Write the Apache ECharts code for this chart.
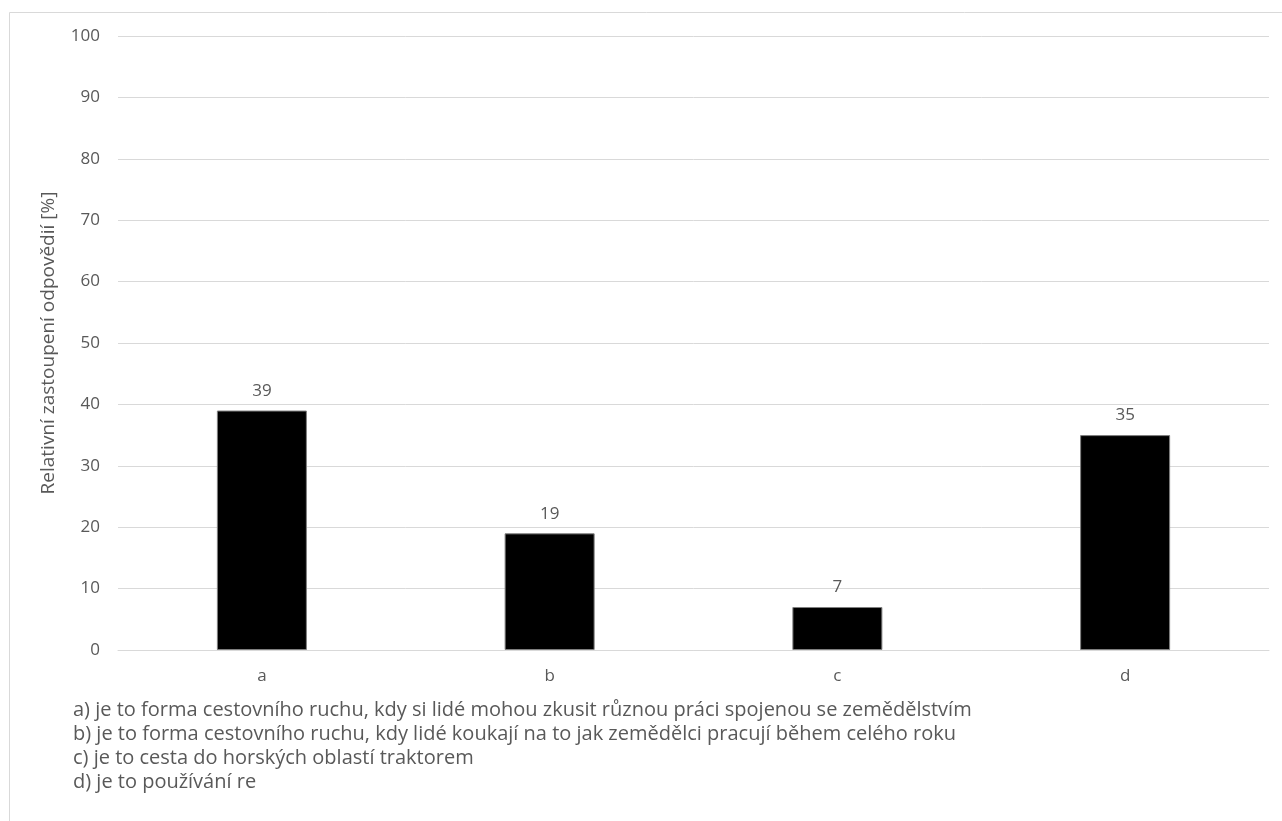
<!DOCTYPE html>
<html>
<head>
<meta charset="utf-8">
<script src="https://cdn.jsdelivr.net/npm/echarts@6/dist/echarts.min.js"></script>
<style>
  html, body { margin: 0; padding: 0; background: #ffffff; }
  #chart { width: 1282px; height: 821px; }
</style>
</head>
<body>
<div id="chart"></div>
<script>
// Answer categories and the share of respondents (%) for each
const categories = ['a', 'b', 'c', 'd'];
const shares = [39, 19, 7, 35];

// Y axis range
const yMin = 0;
const yMax = 100;
const yStep = 10;
const yAxisTitle = 'Relativní zastoupení odpovědií [%]';

// Explanations of the answer options printed under the chart
const answerNotes = [
  'a) je to forma cestovního ruchu, kdy si lidé mohou zkusit různou práci spojenou se zemědělstvím',
  'b) je to forma cestovního ruchu, kdy lidé koukají na to jak zemědělci pracují během celého roku',
  'c) je to cesta do horských oblastí traktorem',
  'd) je to používání re'
];

const FONT = '"Open Sans", "Noto Sans", sans-serif';
const TEXT = '#595959';

const chart = echarts.init(document.getElementById('chart'), null, { renderer: 'canvas' });

const noteGraphics = answerNotes.map((t, i) => ({
  type: 'text',
  left: 73,
  top: 700 + i * 24,
  style: {
    text: t,
    fill: TEXT,
    font: '20px ' + FONT
  }
}));

chart.setOption({
  backgroundColor: '#ffffff',
  animation: false,
  grid: { left: 118, top: 36, width: 1151, height: 614, containLabel: false },
  graphic: [
    {
      type: 'rect',
      shape: { x: 9.5, y: 12.5, width: 1300, height: 900 },
      style: { fill: 'none', stroke: '#d9d9d9', lineWidth: 1 },
      silent: true
    },
    ...noteGraphics
  ],
  xAxis: {
    type: 'category',
    data: categories,
    axisLine: { show: true, lineStyle: { color: '#d9d9d9', width: 1 } },
    axisTick: { show: false },
    axisLabel: { color: TEXT, fontFamily: FONT, fontSize: 17, margin: 18 },
    splitLine: { show: false }
  },
  yAxis: {
    type: 'value',
    min: yMin,
    max: yMax,
    interval: yStep,
    name: yAxisTitle,
    nameLocation: 'middle',
    nameGap: 60,
    nameRotate: 90,
    nameTextStyle: { color: TEXT, fontFamily: FONT, fontSize: 19 },
    axisLine: { show: false },
    axisTick: { show: false },
    axisLabel: { color: TEXT, fontFamily: FONT, fontSize: 17, margin: 18 },
    splitLine: { show: true, lineStyle: { color: '#d9d9d9', width: 1 } }
  },
  series: [{
    type: 'bar',
    data: shares,
    barWidth: 90,
    itemStyle: { color: '#000000', borderColor: '#7f7f7f', borderWidth: 1 },
    label: {
      show: true,
      position: 'top',
      distance: 11,
      color: TEXT,
      fontFamily: FONT,
      fontSize: 17
    }
  }]
});
</script>
</body>
</html>
